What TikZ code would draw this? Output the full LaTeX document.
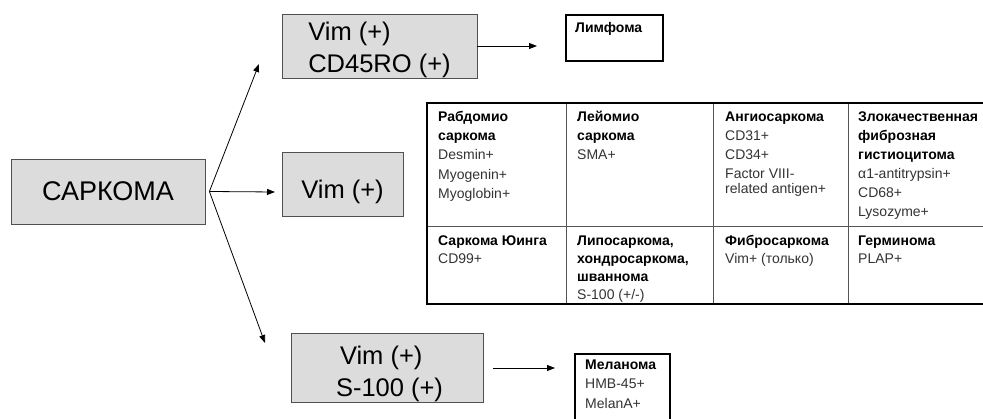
\documentclass[tikz,border=0pt]{standalone}
\usepackage{fontspec}
\setmainfont{Liberation Sans}
\usetikzlibrary{arrows.meta}
\definecolor{boxgray}{HTML}{DCDCDC}
\definecolor{edgegray}{HTML}{505050}
\definecolor{bodytext}{HTML}{333333}
\definecolor{rulegray}{HTML}{555555}
\newcommand{\cellhead}[1]{\textcolor{black}{\bfseries #1}}
\newcommand{\firstline}{\rule{0pt}{11pt}}

\begin{document}
\begin{tikzpicture}[x=1pt, y=-1pt,
  graybox/.style={draw=edgegray, line width=0.8pt, fill=boxgray, inner sep=0pt,
    font=\fontsize{25.5}{32}\selectfont},
  resultbox/.style={draw=black, line width=2.2pt, anchor=north west, inner sep=0pt},
  arr/.style={-{Triangle[length=8pt,width=6pt]}, line width=0.8pt},
  cell/.style={anchor=north west, inner sep=0pt, align=left,
    font=\fontsize{14}{15}\selectfont, text=bodytext},
  outerrule/.style={draw=black, line width=2.4pt},
  innerrule/.style={draw=rulegray, line width=0.8pt}]

\useasboundingbox (0,0) rectangle (983,419);
\clip (0,0) rectangle (983,419);

% main box and the three marker boxes
\node[graybox, minimum width=194, minimum height=65,
  font=\fontsize{27}{30}\selectfont] (sark) at (108,191.5) {САРКОМА};
\node[graybox, minimum width=121, minimum height=64] (vim) at (342.5,184)
  {\rule{0pt}{33.5pt}Vim (+)};
\node[graybox, minimum width=195, minimum height=64, align=left] (vimcd) at (379.5,46)
  {\rule{0pt}{25.5pt}Vim (+)\\CD45RO (+)};
\node[graybox, minimum width=192, minimum height=64, align=left] (vims) at (387,368)
  {\rule{0pt}{31pt}\hspace*{9pt}Vim (+)\\\hspace*{5pt}S-100 (+)};

% result boxes
\node[resultbox, minimum width=97, minimum height=46] (lymph) at (565,14) {};
\node[anchor=base west, inner sep=0pt, font=\bfseries\fontsize{14}{15}\selectfont]
  (lymphtxt) at (575,33) {Лимфома};
\node[resultbox, minimum width=95, minimum height=90] (mel) at (574,353) {};
\node[cell] (meltxt) at (585,358)
  {\firstline\cellhead{Меланома}\\[4.5pt]HMB-45+\\[4.5pt]MelanA+};

% connectors
\coordinate (fork) at ([xshift=4pt]sark.east);
\coordinate (uptip) at (259,64);
\coordinate (midtip) at (275,192);
\coordinate (downtip) at (265,343);
\coordinate (lymtip) at (537,46);
\coordinate (meltip) at (555,368);
\draw[arr] (fork) -- (uptip);
\draw[arr] (fork) -- (midtip);
\draw[arr] (fork) -- (downtip);
\draw[arr] (vimcd.east) -- (lymtip);
\draw[arr, shorten <=10pt] (vims.east) -- (meltip);

% table of tumour markers
\draw[innerrule] (427,226) -- (990,226);
\draw[innerrule] (566,103) -- (566,304);
\draw[innerrule] (713,103) -- (713,304);
\draw[innerrule] (848,103) -- (848,304);
\draw[outerrule] (990,103) -- (427,103) -- (427,304) -- (990,304);

\node[cell] (c11) at (438,110)
  {\firstline\cellhead{Рабдомио}\\[4pt]\cellhead{саркома}\\[4.5pt]Desmin+\\[4.5pt]Myogenin+\\[4.5pt]Myoglobin+};
\node[cell] (c12) at (577,110)
  {\firstline\cellhead{Лейомио}\\[4pt]\cellhead{саркома}\\[4.5pt]SMA+};
\node[cell] (c13) at (725,110)
  {\firstline\cellhead{Ангиосаркома}\\[4.5pt]CD31+\\[4pt]CD34+\\[4pt]Factor VIII-\\related antigen+};
\node[cell] (c14) at (858,110)
  {\firstline\cellhead{Злокачественная}\\[4pt]\cellhead{фиброзная}\\[4pt]\cellhead{гистиоцитома}\\[4pt]α1-antitrypsin+\\[4pt]CD68+\\[4pt]Lysozyme+};
\node[cell] (c21) at (438,234)
  {\firstline\cellhead{Саркома Юинга}\\[3pt]CD99+};
\node[cell] (c22) at (577,234)
  {\firstline\cellhead{Липосаркома,}\\[3pt]\cellhead{хондросаркома,}\\[3pt]\cellhead{шваннома}\\[3pt]S-100 (+/-)};
\node[cell] (c23) at (725,234)
  {\firstline\cellhead{Фибросаркома}\\[3pt]Vim+ (только)};
\node[cell] (c24) at (858,234)
  {\firstline\cellhead{Герминома}\\[3pt]PLAP+};
\end{tikzpicture}
\end{document}
